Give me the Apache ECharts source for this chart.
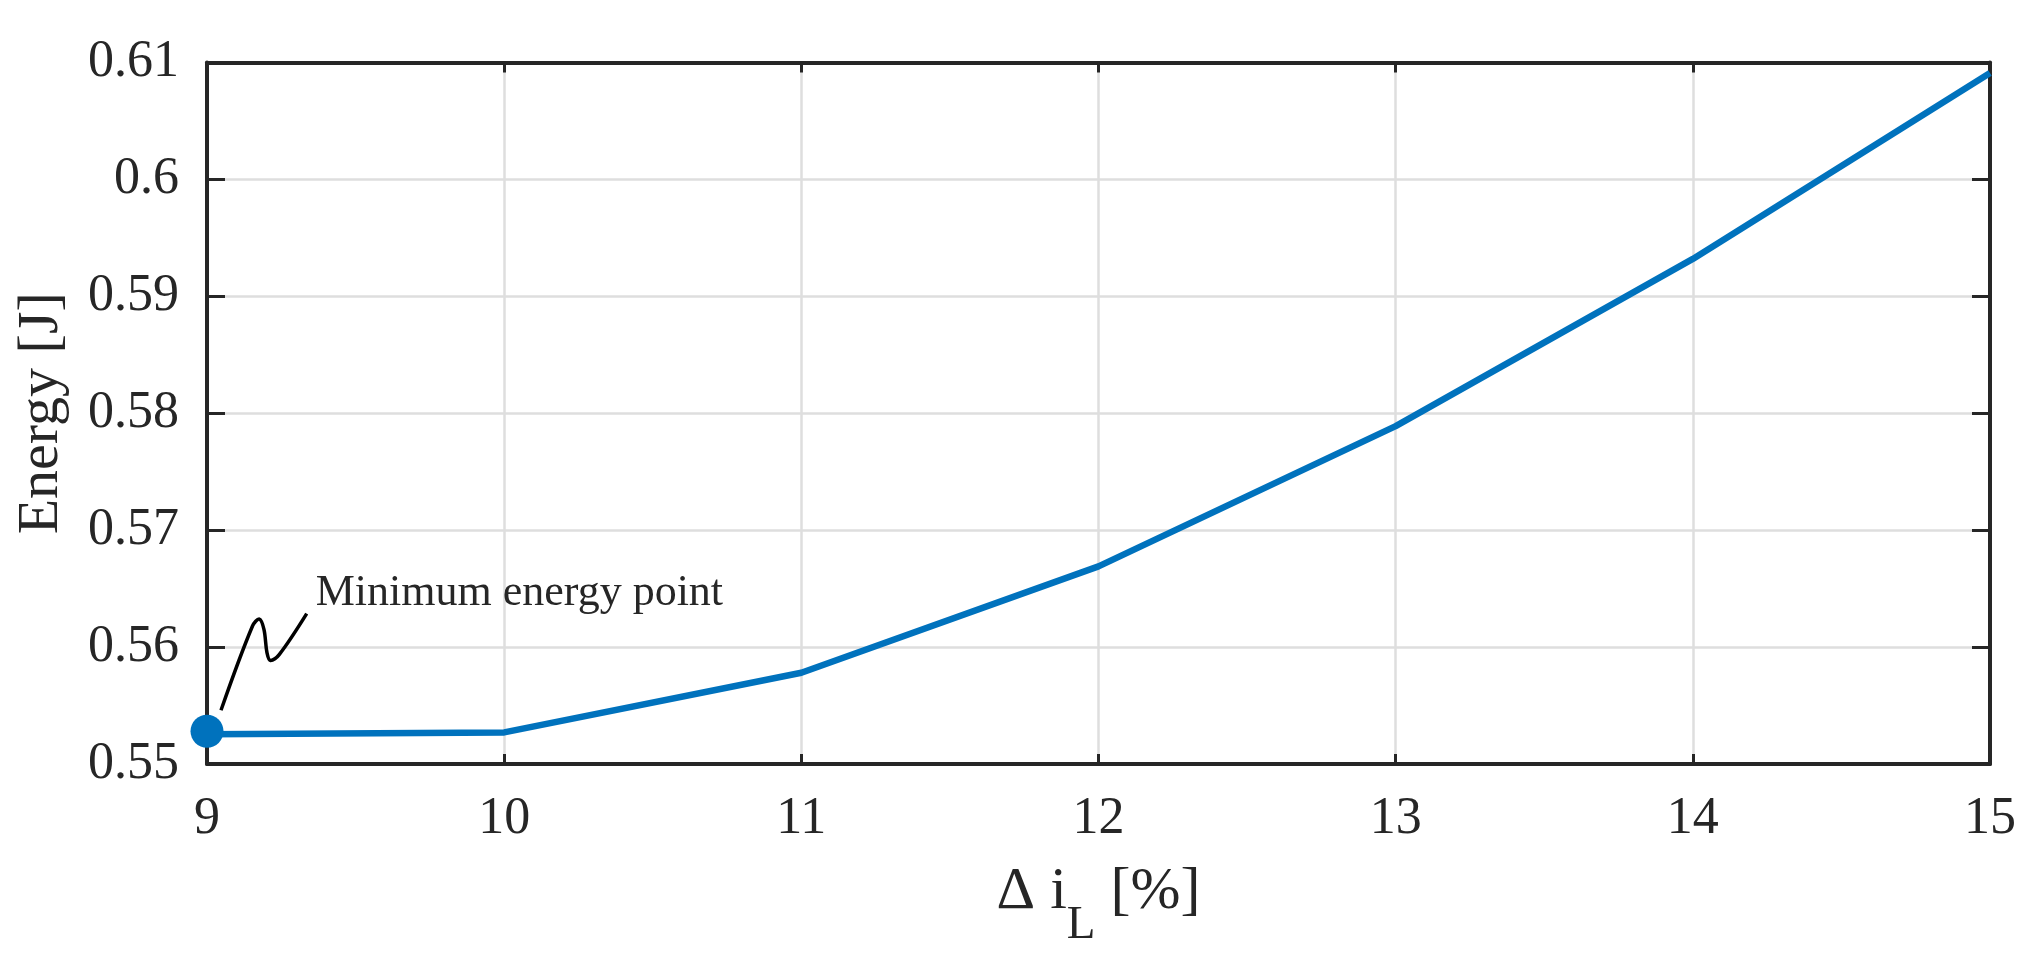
<!DOCTYPE html>
<html>
<head>
<meta charset="utf-8">
<script src="https://cdn.jsdelivr.net/npm/echarts@6/dist/echarts.min.js"></script>
<style>
  html, body { margin: 0; padding: 0; background: #ffffff; }
  #chart { width: 2037px; height: 963px; }
</style>
</head>
<body>
<div id="chart"></div>
<script>
// ---- data ----
const xValues = [9, 10, 11, 12, 13, 14, 15];                 // Δ i_L [%]
const energyValues = [0.55255, 0.5527, 0.5578, 0.5669, 0.5789, 0.5932, 0.6091]; // Energy [J]
const minPoint = [9, 0.5528];
const xTickLabels = ['9', '10', '11', '12', '13', '14', '15'];
const yTickLabels = ['0.55', '0.56', '0.57', '0.58', '0.59', '0.6', '0.61'];
const annotationText = 'Minimum energy point';
const xAxisTitle = 'Δ i';
const xAxisSub = 'L';
const xAxisTitleTail = ' [%]';
const yAxisTitle = 'Energy [J]';

// ---- style ----
const FONT = '"Liberation Serif", "Times New Roman", serif';
const AX = '#262626';
const BLUE = '#0072BD';
const GRIDC = '#dedede';

const chart = echarts.init(document.getElementById('chart'), null, { renderer: 'canvas' });

const xMin = 9, xMax = 15, xInt = 1;
const yMin = 0.55, yMax = 0.61, yInt = 0.01;

function xLabel(v) { const i = Math.round((v - xMin) / xInt); return xTickLabels[i] ?? ''; }
function yLabel(v) { const i = Math.round((v - yMin) / yInt); return yTickLabels[i] ?? ''; }

const option = {
  animation: false,
  backgroundColor: '#ffffff',
  grid: { left: 207, right: 47, top: 62.5, bottom: 199, containLabel: false, outerBoundsMode: 'none' },
  xAxis: [
    {
      type: 'value', min: xMin, max: xMax, interval: xInt, position: 'bottom',
      axisLine: { show: true, onZero: false, lineStyle: { color: AX, width: 4 } },
      axisTick: { show: true, inside: true, length: 10, lineStyle: { color: AX, width: 3 } },
      axisLabel: { formatter: xLabel, fontFamily: FONT, fontSize: 52, color: AX, margin: 29 },
      splitLine: { show: true, lineStyle: { color: GRIDC, width: 2.5 } },
      name: '{a|' + xAxisTitle + '}{s|' + xAxisSub + '}{a|' + xAxisTitleTail + '}',
      nameLocation: 'middle', nameGap: 96,
      nameTextStyle: {
        rich: {
          a: { fontFamily: FONT, fontSize: 60, color: AX, verticalAlign: 'top', height: 64, lineHeight: 132 },
          s: { fontFamily: FONT, fontSize: 47, color: AX, verticalAlign: 'top', height: 132, lineHeight: 132 }
        }
      }
    },
    {
      type: 'value', min: xMin, max: xMax, interval: xInt, position: 'top',
      axisLine: { show: true, onZero: false, lineStyle: { color: AX, width: 4 } },
      axisTick: { show: true, inside: true, length: 10, lineStyle: { color: AX, width: 3 } },
      axisLabel: { show: false }, splitLine: { show: false }
    }
  ],
  yAxis: [
    {
      type: 'value', min: yMin, max: yMax, interval: yInt, position: 'left',
      axisLine: { show: true, onZero: false, lineStyle: { color: AX, width: 4 } },
      axisTick: { show: true, inside: true, length: 18, lineStyle: { color: AX, width: 3 } },
      axisLabel: { formatter: yLabel, fontFamily: FONT, fontSize: 52, color: AX, margin: 28 },
      splitLine: { show: true, lineStyle: { color: GRIDC, width: 2.5 } },
      name: yAxisTitle, nameLocation: 'middle', nameGap: 136,
      nameTextStyle: { fontFamily: FONT, fontSize: 58, color: AX }
    },
    {
      type: 'value', min: yMin, max: yMax, interval: yInt, position: 'right',
      axisLine: { show: true, onZero: false, lineStyle: { color: AX, width: 4 } },
      axisTick: { show: true, inside: true, length: 18, lineStyle: { color: AX, width: 3 } },
      axisLabel: { show: false }, splitLine: { show: false }
    }
  ],
  series: [
    {
      name: 'Energy', type: 'line', xAxisIndex: 0, yAxisIndex: 0,
      data: xValues.map((x, i) => [x, energyValues[i]]),
      showSymbol: false, symbol: 'none', clip: false,
      lineStyle: { color: BLUE, width: 6.5 }, z: 3
    },
    {
      name: 'Minimum', type: 'scatter', xAxisIndex: 0, yAxisIndex: 0,
      data: [minPoint], symbol: 'circle', symbolSize: 33, clip: false,
      itemStyle: { color: BLUE, opacity: 1 }, z: 4
    }
  ]
};
chart.setOption(option);

// annotation anchored to the minimum point (pixel offsets only)
const p = chart.convertToPixel({ xAxisIndex: 0, yAxisIndex: 0 }, minPoint);
const squiggle = [[14, -21], [45.4, -105], [52.4, -112.2], [57, -101.7], [60, -78.4], [63.4, -70.7], [72.2, -76.7], [99.7, -117.7]];
chart.setOption({
  graphic: [
    {
      type: 'polyline', z: 10,
      shape: { points: squiggle.map(d => [p[0] + d[0], p[1] + d[1]]), smooth: 0.35 },
      style: { stroke: '#000000', lineWidth: 3.5, fill: null }
    },
    {
      type: 'text', z: 10, x: p[0] + 108.7, y: p[1] - 137.5,
      style: { text: annotationText, fontFamily: FONT, fontSize: 44, fill: AX, align: 'left', verticalAlign: 'middle' }
    }
  ]
});
</script>
</body>
</html>
